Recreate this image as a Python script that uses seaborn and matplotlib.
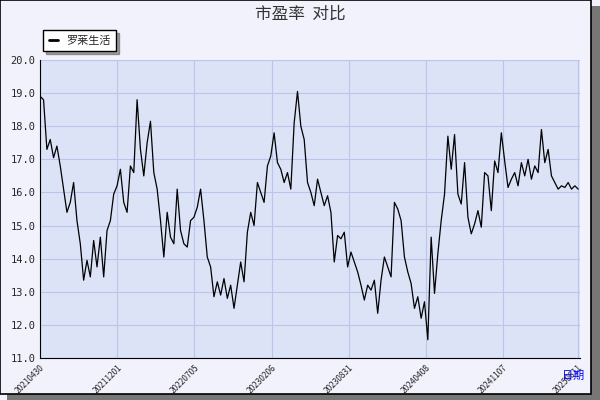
import matplotlib
matplotlib.use("Agg")
import matplotlib.pyplot as plt
import seaborn as sns
import pandas as pd
from matplotlib.patches import Rectangle

pe = [18.9, 18.8, 17.3, 17.6, 17.05, 17.4, 16.8, 16.1, 15.4, 15.7, 16.3, 15.15, 14.45,
      13.35, 13.95, 13.45, 14.55, 13.75, 14.65, 13.45, 14.85, 15.15, 15.95, 16.2, 16.7,
      15.7, 15.4, 16.8, 16.6, 18.8, 17.3, 16.5, 17.5, 18.15, 16.6, 16.1, 15.15, 14.05,
      15.4, 14.65, 14.45, 16.1, 14.85, 14.45, 14.35, 15.15, 15.25, 15.55, 16.1, 15.15,
      14.05, 13.75, 12.85, 13.3, 12.9, 13.4, 12.8, 13.2, 12.5, 13.2, 13.9, 13.3, 14.8,
      15.4, 15.0, 16.3, 16.0, 15.7, 16.8, 17.1, 17.8, 16.9, 16.7, 16.3, 16.6, 16.1, 18.1,
      19.05, 18.0, 17.6, 16.3, 16.0, 15.6, 16.4, 16.0, 15.6, 15.9, 15.4, 13.9, 14.7, 14.6,
      14.8, 13.75, 14.2, 13.9, 13.6, 13.2, 12.75, 13.2, 13.05, 13.35, 12.35, 13.35, 14.05,
      13.75, 13.45, 15.7, 15.5, 15.15, 14.05, 13.6, 13.25, 12.5, 12.85, 12.2, 12.7, 11.55,
      14.65, 12.95, 14.15, 15.15, 15.95, 17.7, 16.7, 17.75, 15.95, 15.65, 16.9, 15.25,
      14.75, 15.05, 15.45, 14.95, 16.6, 16.5, 15.45, 16.95, 16.6, 17.8, 16.95, 16.15,
      16.4, 16.6, 16.2, 16.9, 16.5, 17.0, 16.4, 16.8, 16.6, 17.9, 16.9, 17.3, 16.5, 16.3,
      16.1, 16.2, 16.15, 16.3, 16.1, 16.2, 16.1]
total_days = 1074
tick_days = [0, 154, 308, 462, 616, 770, 924, 1074]
tick_labels = ["20210430", "20211201", "20220705", "20230206", "20230831",
               "20240408", "20241107", "20250611"]
days = [i * total_days / (len(pe) - 1) for i in range(len(pe))]

sns.set_style("white")
plt.rcParams['font.family'] = ['Noto Sans CJK SC', 'DejaVu Sans']

fig = plt.figure(figsize=(6, 4), dpi=100, facecolor="#f1f2fb")
fig.patches.append(Rectangle((0.012, 0.0), 0.988, 0.985, transform=fig.transFigure,
                             facecolor="#777777", edgecolor="none", zorder=-2))
fig.patches.append(Rectangle((0.0, 0.015), 0.985, 0.985, transform=fig.transFigure,
                             facecolor="#f1f2fb", edgecolor="black", lw=1.2, zorder=-1))
ax = fig.add_axes([0.067, 0.105, 0.9, 0.745])
ax.set_facecolor("#dce3f7")

df = pd.DataFrame({"day": days, "pe": pe})
sns.lineplot(data=df, x="day", y="pe", ax=ax, color="black", lw=0.9, label="罗莱生活")

ax.set_xlim(0, 1078)
ax.set_ylim(11, 20)
ax.set_yticks([11 + i for i in range(10)])
ax.set_yticklabels([f"{11 + i:.1f}" for i in range(10)], fontsize=7.5, family="DejaVu Sans Mono")
ax.set_yticks([11.5 + i for i in range(9)], minor=True)
ax.set_xticks(tick_days)
ax.set_xticklabels(tick_labels, rotation=45, fontsize=6, ha="right", rotation_mode="anchor")
ax.tick_params(axis="both", direction="in", length=4, width=0.8)
ax.tick_params(axis="y", which="minor", direction="in", length=2)
ax.grid(True, color="#b9c5ea", lw=0.8)
ax.set_xlabel("")
ax.set_ylabel("")
for s in ["top", "right"]:
    ax.spines[s].set_visible(False)
for s in ["left", "bottom"]:
    ax.spines[s].set_color("black")

leg = ax.legend(loc="lower left", bbox_to_anchor=(-0.005, 1.01), fontsize=8, frameon=True,
                fancybox=False, shadow=True, handlelength=0.8, borderpad=0.5)
leg.get_frame().set_edgecolor("black")
for line in leg.get_lines():
    line.set_linewidth(2)

fig.text(0.5, 0.965, "市盈率  对比", ha="center", va="center", fontsize=12, color="#333333")
fig.text(0.955, 0.06, "日期", ha="center", va="center", fontsize=8, color="blue")

fig.savefig("out.png", dpi=100, facecolor=fig.get_facecolor())
